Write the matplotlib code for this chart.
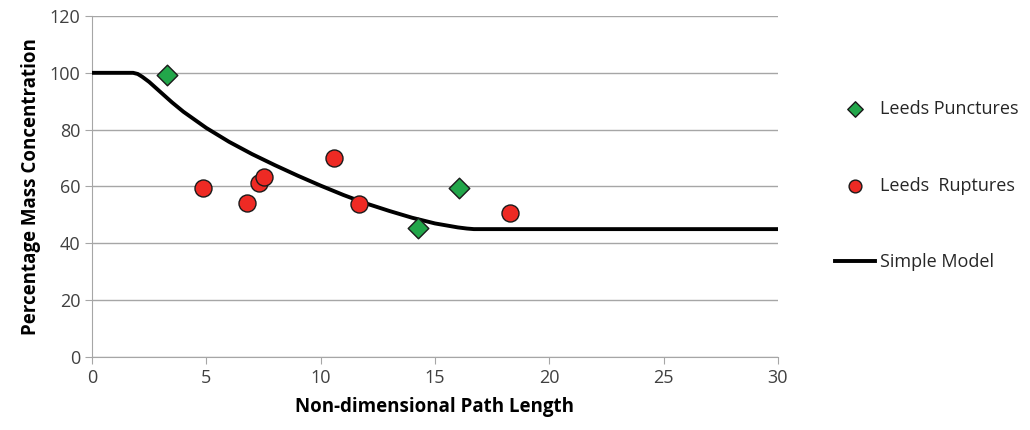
import numpy as np
import matplotlib.pyplot as plt

plt.rcParams['font.family'] = ['Open Sans', 'DejaVu Sans']

# data
punct_x = [3.3, 14.25, 16.05]
punct_y = [99.2, 45.3, 59.6]

rupt_x = [4.85, 6.78, 7.3, 7.53, 10.58, 11.67, 18.28]
rupt_y = [59.3, 54.3, 61.2, 63.3, 70.0, 54.0, 50.6]

model_x = [0, 1.8, 2.0, 2.2, 2.5, 3, 3.5, 4, 5, 6, 7, 8, 9, 10, 11, 12, 13, 14, 15, 16, 16.4, 16.7, 30]
model_y = [100, 100, 99.6, 98.6, 96.8, 93.2, 89.6, 86.3, 80.6, 75.7, 71.4, 67.5, 63.8, 60.3, 57.0, 54.0, 51.4, 49.0, 47.0, 45.6, 45.2, 45, 45]

fig = plt.figure(figsize=(10.3, 4.3), dpi=100)
ax = fig.add_axes([0.0893, 0.1698, 0.666, 0.793])

ax.plot(model_x, model_y, color='black', lw=2.8, label='Simple Model', zorder=3,
        solid_joinstyle='round')
ax.scatter(punct_x, punct_y, marker='D', s=110, color='#22a64a', edgecolors='#1a1a1a',
           linewidths=1.0, label='Leeds Punctures', zorder=4)
ax.scatter(rupt_x, rupt_y, marker='o', s=150, color='#ee2a24', edgecolors='#1a1a1a',
           linewidths=1.0, label='Leeds  Ruptures', zorder=4)

ax.set_xlim(0, 30)
ax.set_ylim(0, 120)
ax.set_xticks(np.arange(0, 31, 5))
ax.set_yticks(np.arange(0, 121, 20))
ax.grid(axis='y', color='#a6a6a6', lw=1)
ax.set_axisbelow(True)
for s in ['top', 'right']:
    ax.spines[s].set_visible(False)
for s in ['left', 'bottom']:
    ax.spines[s].set_color('#a6a6a6')
ax.tick_params(colors='#a6a6a6', labelcolor='#404040', labelsize=13, length=5)

ax.set_xlabel('Non-dimensional Path Length', fontsize=13.5, fontweight='bold', labelpad=7)
ax.set_ylabel('Percentage Mass Concentration', fontsize=13.5, fontweight='bold', labelpad=6)

h, l = ax.get_legend_handles_labels()
order = [1, 2, 0]
leg = fig.legend([h[i] for i in order], [l[i] for i in order], loc='upper left',
                 bbox_to_anchor=(0.795, 0.805), frameon=False, fontsize=13,
                 labelspacing=3.25, handlelength=2.2, handletextpad=0.3, markerscale=0.75)
for t in leg.get_texts():
    t.set_color('#262626')

fig.savefig('out.png', dpi=100)
